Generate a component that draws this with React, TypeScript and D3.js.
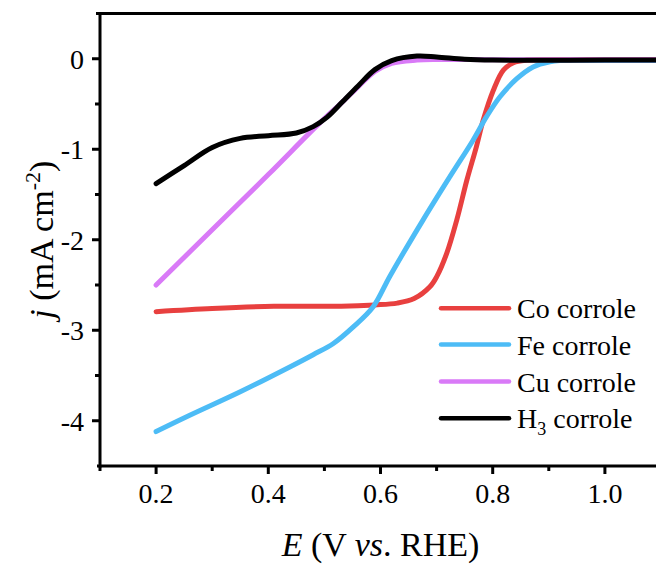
import React, { useEffect, useRef } from "react";
import * as d3 from "d3";

// potential (V vs. RHE) and current density (mA cm-2)
const coE = [0.2, 0.3, 0.41, 0.53, 0.59, 0.63, 0.66, 0.688, 0.70, 0.718, 0.736, 0.754, 0.771, 0.783, 0.801, 0.819, 0.837, 0.861, 0.9, 1.0, 1.1];
const coJ = [-2.795, -2.76, -2.735, -2.735, -2.72, -2.70, -2.65, -2.52, -2.41, -2.15, -1.78, -1.34, -0.97, -0.68, -0.35, -0.125, -0.044, -0.015, -0.01, -0.01, -0.01];

const feE = [0.2, 0.26, 0.35, 0.44, 0.48, 0.516, 0.552, 0.587, 0.617, 0.676, 0.724, 0.765, 0.789, 0.813, 0.843, 0.872, 0.902, 0.92, 1.0, 1.1];
const feJ = [-4.12, -3.94, -3.68, -3.40, -3.27, -3.146, -2.96, -2.74, -2.40, -1.78, -1.30, -0.90, -0.64, -0.42, -0.22, -0.09, -0.033, -0.02, -0.02, -0.02];

const cuE = [0.2, 0.3, 0.4, 0.49, 0.53, 0.56, 0.59, 0.62, 0.665, 0.7, 0.8, 1.0, 1.1];
const cuJ = [-2.5, -1.89, -1.28, -0.72, -0.49, -0.31, -0.14, -0.05, -0.015, -0.008, -0.01, -0.01, -0.01];

const h3E = [0.2, 0.25, 0.3, 0.35, 0.4, 0.45, 0.48, 0.505, 0.53, 0.56, 0.59, 0.62, 0.665, 0.7, 0.75, 0.8, 1.0, 1.1];
const h3J = [-1.38, -1.18, -0.98, -0.88, -0.85, -0.82, -0.75, -0.645, -0.49, -0.3, -0.12, -0.02, 0.03, 0.02, -0.005, -0.015, -0.015, -0.015];

const seriesNames = ["Co corrole", "Fe corrole", "Cu corrole", "H3 corrole"];
const seriesColors = ["#e8403f", "#4dbcf6", "#d97af7", "#000000"];

const xTicks = [0.2, 0.4, 0.6, 0.8, 1.0];
const xMinor = [0.1, 0.3, 0.5, 0.7, 0.9];
const yTicks = [0, -1, -2, -3, -4];
const yMinor = [-0.5, -1.5, -2.5, -3.5];

const FONT = "'Liberation Serif', 'Times New Roman', serif";

export default function App() {
  const svgRef = useRef<SVGSVGElement>(null);

  useEffect(() => {
    const W = 656;
    const H = 566;
    const svg = d3.select(svgRef.current).attr("width", W).attr("height", H);
    svg.selectAll("*").remove();

    const x = d3.scaleLinear().domain([0.1, 1.1]).range([100, 661]);
    const y = d3.scaleLinear().domain([-4.5, 0.5]).range([466, 13.5]);

    const data = [
      coE.map((e, i) => [e, coJ[i]]),
      feE.map((e, i) => [e, feJ[i]]),
      cuE.map((e, i) => [e, cuJ[i]]),
      h3E.map((e, i) => [e, h3J[i]]),
    ] as [number, number][][];

    const line = d3
      .line<[number, number]>()
      .x((d) => x(d[0]))
      .y((d) => y(d[1]))
      .curve(d3.curveCatmullRom.alpha(0.5));

    svg
      .append("g")
      .selectAll("path")
      .data(data)
      .join("path")
      .attr("d", (d) => line(d))
      .attr("fill", "none")
      .attr("stroke", (_, i) => seriesColors[i])
      .attr("stroke-width", 5)
      .attr("stroke-linecap", "round")
      .attr("stroke-linejoin", "round");

    // frame
    const axisG = svg.append("g").attr("stroke", "#000").attr("stroke-width", 3);
    axisG.append("line").attr("x1", 96).attr("x2", W).attr("y1", y(0.5)).attr("y2", y(0.5));
    axisG.append("line").attr("x1", x(0.1)).attr("x2", x(0.1)).attr("y1", y(0.5) - 1.5).attr("y2", y(-4.5) + 1.5);
    axisG.append("line").attr("x1", 97).attr("x2", W).attr("y1", y(-4.5)).attr("y2", y(-4.5));

    // x ticks
    axisG
      .selectAll(".xmaj")
      .data(xTicks)
      .join("line")
      .attr("x1", (d) => x(d))
      .attr("x2", (d) => x(d))
      .attr("y1", y(-4.5))
      .attr("y2", y(-4.5) + 8);
    axisG
      .selectAll(".xmin")
      .data(xMinor)
      .join("line")
      .attr("x1", (d) => x(d))
      .attr("x2", (d) => x(d))
      .attr("y1", y(-4.5))
      .attr("y2", y(-4.5) + 5);

    // y ticks
    axisG
      .selectAll(".ymaj")
      .data(yTicks)
      .join("line")
      .attr("x1", x(0.1) - 8)
      .attr("x2", x(0.1))
      .attr("y1", (d) => y(d))
      .attr("y2", (d) => y(d));
    axisG
      .selectAll(".ymin")
      .data(yMinor)
      .join("line")
      .attr("x1", x(0.1) - 5)
      .attr("x2", x(0.1))
      .attr("y1", (d) => y(d))
      .attr("y2", (d) => y(d));

    const labels = svg.append("g").attr("font-family", FONT).attr("fill", "#000");
    labels
      .selectAll(".xl")
      .data(xTicks)
      .join("text")
      .attr("x", (d) => x(d))
      .attr("y", y(-4.5) + 37)
      .attr("text-anchor", "middle")
      .attr("font-size", 28)
      .text((d) => d.toFixed(1));
    labels
      .selectAll(".yl")
      .data(yTicks)
      .join("text")
      .attr("x", 84)
      .attr("y", (d) => y(d) + 10)
      .attr("text-anchor", "end")
      .attr("font-size", 28)
      .text((d) => (d === 0 ? "0" : "-" + Math.abs(d)));

    // axis titles
    const xt = labels
      .append("text")
      .attr("x", (x(0.1) + x(1.1)) / 2)
      .attr("y", 556)
      .attr("text-anchor", "middle")
      .attr("font-size", 34);
    xt.append("tspan").attr("font-style", "italic").text("E");
    xt.append("tspan").text(" (V ");
    xt.append("tspan").attr("font-style", "italic").text("vs");
    xt.append("tspan").text(". RHE)");

    const yt = labels
      .append("text")
      .attr("transform", `translate(53, ${(y(0.5) + y(-4.5)) / 2}) rotate(-90)`)
      .attr("text-anchor", "middle")
      .attr("font-size", 34);
    yt.append("tspan").attr("font-style", "italic").text("j");
    yt.append("tspan").text(" (mA cm");
    yt.append("tspan").attr("font-size", 22).attr("dy", -13).text("-2");
    yt.append("tspan").attr("dy", 13).text(")");

    // legend
    const legY = [308.3, 344.5, 381.5, 418.3];
    const leg = svg.append("g");
    leg
      .selectAll("line")
      .data(seriesNames)
      .join("line")
      .attr("x1", 441)
      .attr("x2", 509)
      .attr("y1", (_, i) => legY[i])
      .attr("y2", (_, i) => legY[i])
      .attr("stroke", (_, i) => seriesColors[i])
      .attr("stroke-width", 4.5)
      .attr("stroke-linecap", "round");
    leg
      .selectAll("text")
      .data(seriesNames)
      .join("text")
      .attr("x", 517)
      .attr("y", (_, i) => legY[i] + 10)
      .attr("font-family", FONT)
      .attr("font-size", 28)
      .each(function (d) {
        const t = d3.select(this);
        if (d.startsWith("H3")) {
          t.append("tspan").text("H");
          t.append("tspan").attr("font-size", 18).attr("dy", 7).text("3");
          t.append("tspan").attr("dy", -7).text(" corrole");
        } else {
          t.text(d);
        }
      });
  }, []);

  return <svg ref={svgRef} style={{ position: "absolute", left: 0, top: 0, background: "#fff" }}></svg>;
}
